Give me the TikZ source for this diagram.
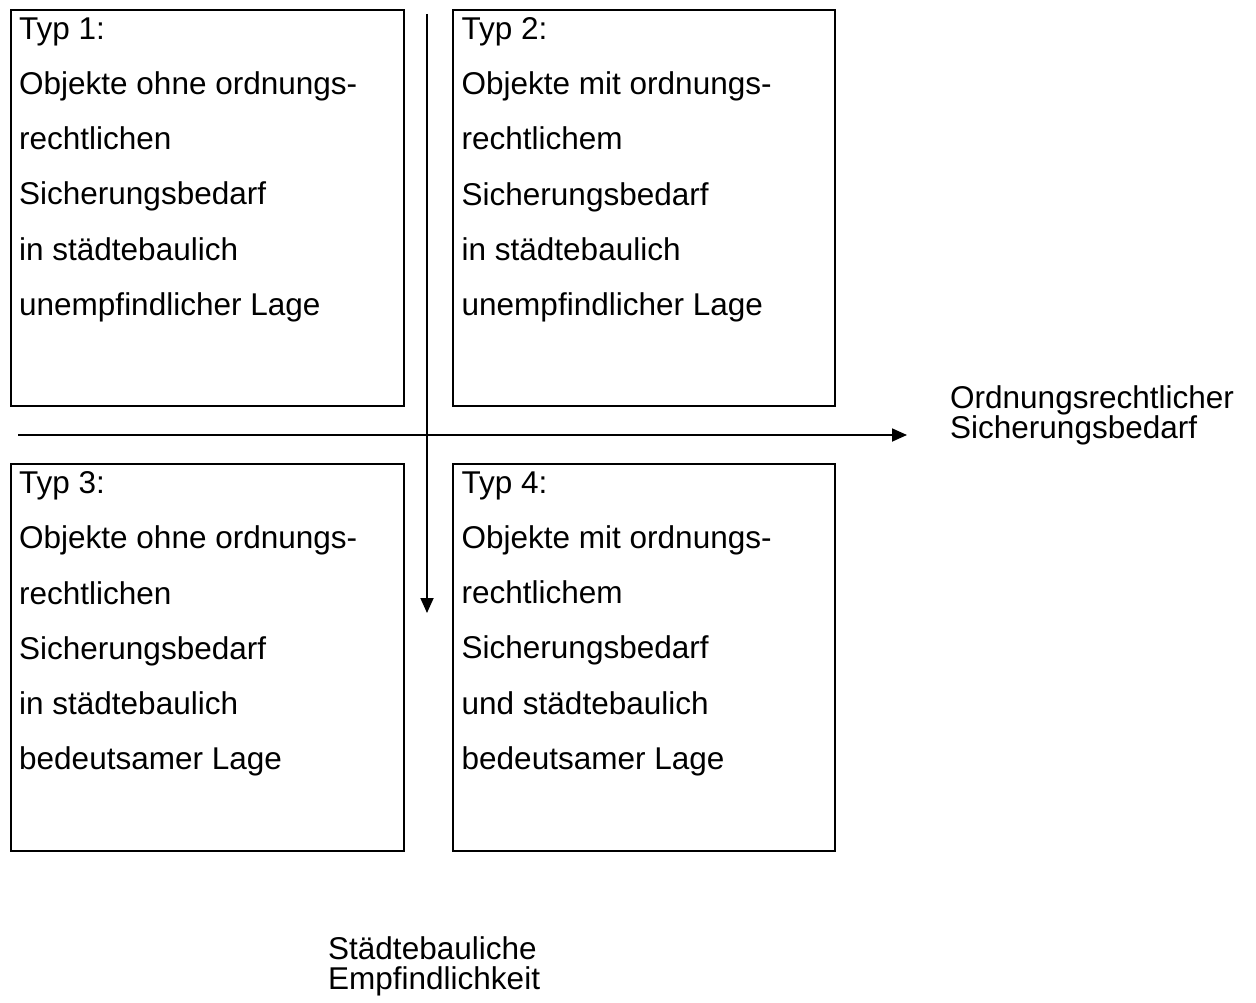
\documentclass[tikz,border=0pt]{standalone}
\usepackage{fontspec}
\setmainfont{Liberation Sans}
\usetikzlibrary{arrows.meta}
\begin{document}
\begin{tikzpicture}[x=1pt,y=-1pt,
  box/.style={draw=black,line width=2pt,fill=none},
  boxtext/.style={anchor=north west,inner sep=0pt,align=left,
    font=\fontsize{31.5}{55.2}\selectfont},
  axislabel/.style={anchor=north west,inner sep=0pt,align=left,
    font=\fontsize{31.5}{30.8}\selectfont},
  axis/.style={line width=1.8pt,-{Triangle[length=15pt,width=13pt]}}]
\useasboundingbox (0,0) rectangle (1256,1003);
% boxes
\node[box,minimum width=393pt,minimum height=396pt,anchor=north west,inner sep=0pt] (b1) at (10,9) {};
\node[box,minimum width=382pt,minimum height=396pt,anchor=north west,inner sep=0pt] (b2) at (452,9) {};
\node[box,minimum width=393pt,minimum height=387pt,anchor=north west,inner sep=0pt] (b3) at (10,463) {};
\node[box,minimum width=382pt,minimum height=387pt,anchor=north west,inner sep=0pt] (b4) at (452,463) {};
% texts
\node[boxtext] (t1) at (19,17.4) {Typ 1:\\Objekte ohne ordnungs-\\rechtlichen\\Sicherungsbedarf\\in städtebaulich\\unempfindlicher Lage};
\node[boxtext] (t2) at (461.5,17.4) {Typ 2:\\Objekte mit ordnungs-\\rechtlichem\\Sicherungsbedarf\\in städtebaulich\\unempfindlicher Lage};
\node[boxtext] (t3) at (19,471.4) {Typ 3:\\Objekte ohne ordnungs-\\rechtlichen\\Sicherungsbedarf\\in städtebaulich\\bedeutsamer Lage};
\node[boxtext] (t4) at (461.5,471.4) {Typ 4:\\Objekte mit ordnungs-\\rechtlichem\\Sicherungsbedarf\\und städtebaulich\\bedeutsamer Lage};
% axes
\coordinate (vs) at (427,14);
\coordinate (ve) at (427,613);
\coordinate (hs) at (18,435);
\coordinate (he) at (907,435);
\draw[axis] (vs) -- (ve);
\draw[axis] (hs) -- (he);
\node[axislabel] (lx) at (950,385) {Ordnungsrechtlicher\\Sicherungsbedarf};
\node[axislabel] (ly) at (328,936) {Städtebauliche\\Empfindlichkeit};
\end{tikzpicture}
\end{document}
